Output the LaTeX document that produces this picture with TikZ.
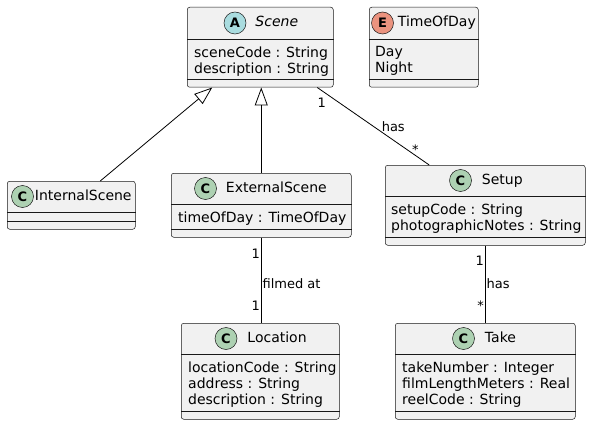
\documentclass[tikz,border=0pt]{standalone}
\usepackage{fontspec}
\setmainfont{DejaVu Sans}
\usetikzlibrary{positioning, arrows.meta}
\definecolor{classbg}{HTML}{F1F1F1}
\definecolor{classline}{HTML}{181818}
\definecolor{abstracticon}{HTML}{A9DCDF}
\definecolor{classicon}{HTML}{ADD1B2}
\definecolor{enumicon}{HTML}{EB937F}
\tikzset{
    classbox/.style={
        draw=classline, fill=classbg,
        line width=0.5pt, rounded corners=2.5pt,
        anchor=north west, inner sep=0pt,
    },
    sepline/.style={
        draw=classline, line width=0.5pt,
    },
    icon/.style={
        circle, draw=classline, fill=#1,
        line width=0.5pt, minimum size=22pt, inner sep=0pt,
        font=\fontsize{13}{13}\selectfont\bfseries,
    },
    classname/.style={
        inner sep=0pt, text height=10.5pt, text depth=2.5pt,
        font=\fontsize{14}{16}\selectfont,
    },
    members/.style={
        anchor=north west, inner sep=0pt, align=left,
        font=\fontsize{14}{16}\selectfont,
    },
    inherit/.style={
        -{Triangle[open, length=18pt, width=13pt]},
        line width=0.8pt,
    },
    assoc/.style={
        line width=0.8pt,
    },
    mult/.style={
        inner sep=0pt, font=\fontsize{13}{15}\selectfont,
    },
}

\begin{document}
\begin{tikzpicture}[x=1pt, y=-1pt]
\useasboundingbox (0,0) rectangle (591,425);

% =============================================
% Top row: Scene (abstract) and TimeOfDay (enum)
% =============================================
\node[classbox, minimum width=146pt, minimum height=80pt] (scene) at (187,7) {};
\draw[sepline] ([yshift=-32pt]scene.north west) -- ([yshift=-32pt]scene.north east);
\draw[sepline] ([yshift=-72pt]scene.north west) -- ([yshift=-72pt]scene.north east);
\node[icon=abstracticon] (sceneicon) at (235,23) {A};
\node[classname, right=9pt of sceneicon, font=\fontsize{14}{16}\selectfont\itshape] (scenename) {Scene};
\node[members] (scenemembers) at ([xshift=7pt, yshift=-39.5pt]scene.north west)
    {sceneCode : String\\description : String};

\node[classbox, minimum width=109pt, minimum height=80pt] (timeofday) at (369,7) {};
\draw[sepline] ([yshift=-32pt]timeofday.north west) -- ([yshift=-32pt]timeofday.north east);
\draw[sepline] ([yshift=-72pt]timeofday.north west) -- ([yshift=-72pt]timeofday.north east);
\node[icon=enumicon] (timeofdayicon) at (382.5,23) {E};
\node[classname, right=4pt of timeofdayicon] (timeofdayname) {TimeOfDay};
\node[members] (timeofdaymembers) at ([xshift=6pt, yshift=-39.5pt]timeofday.north west)
    {Day\\Night};

% =============================================
% Middle row: InternalScene, ExternalScene, Setup
% =============================================
\node[classbox, minimum width=128pt, minimum height=48pt] (internal) at (7,181) {};
\draw[sepline] ([yshift=-31pt]internal.north west) -- ([yshift=-31pt]internal.north east);
\draw[sepline] ([yshift=-40pt]internal.north west) -- ([yshift=-40pt]internal.north east);
\node[icon=classicon] (internalicon) at (22.5,196.5) {C};
\node[classname, right=1pt of internalicon] (internalname) {InternalScene};

\node[classbox, minimum width=180pt, minimum height=64pt] (external) at (171,173) {};
\draw[sepline] ([yshift=-31pt]external.north west) -- ([yshift=-31pt]external.north east);
\draw[sepline] ([yshift=-56pt]external.north west) -- ([yshift=-56pt]external.north east);
\node[icon=classicon] (externalicon) at (205.5,188.5) {C};
\node[classname, right=9pt of externalicon] (externalname) {ExternalScene};
\node[members] (externalmembers) at ([xshift=7pt, yshift=-38.5pt]external.north west)
    {timeOfDay : TimeOfDay};

\node[classbox, minimum width=200pt, minimum height=80pt] (setup) at (385,165) {};
\draw[sepline] ([yshift=-31pt]setup.north west) -- ([yshift=-31pt]setup.north east);
\draw[sepline] ([yshift=-72pt]setup.north west) -- ([yshift=-72pt]setup.north east);
\node[icon=classicon] (setupicon) at (460.5,180.5) {C};
\node[classname, right=10pt of setupicon] (setupname) {Setup};
\node[members] (setupmembers) at ([xshift=6pt, yshift=-38.5pt]setup.north west)
    {setupCode : String\\photographicNotes : String};

% =============================================
% Bottom row: Location, Take
% =============================================
\node[classbox, minimum width=158pt, minimum height=96pt] (location) at (181,323) {};
\draw[sepline] ([yshift=-31pt]location.north west) -- ([yshift=-31pt]location.north east);
\draw[sepline] ([yshift=-88pt]location.north west) -- ([yshift=-88pt]location.north east);
\node[icon=classicon] (locationicon) at (226,338.5) {C};
\node[classname, right=10pt of locationicon] (locationname) {Location};
\node[members] (locationmembers) at ([xshift=7pt, yshift=-38.5pt]location.north west)
    {locationCode : String\\address : String\\description : String};

\node[classbox, minimum width=180pt, minimum height=96pt] (take) at (395,323) {};
\draw[sepline] ([yshift=-31pt]take.north west) -- ([yshift=-31pt]take.north east);
\draw[sepline] ([yshift=-88pt]take.north west) -- ([yshift=-88pt]take.north east);
\node[icon=classicon] (takeicon) at (463.5,338.5) {C};
\node[classname, right=10pt of takeicon] (takename) {Take};
\node[members] (takemembers) at ([xshift=7pt, yshift=-38.5pt]take.north west)
    {takeNumber : Integer\\filmLengthMeters : Real\\reelCode : String};

% =============================================
% Generalisation arrows
% =============================================
\draw[inherit] ([xshift=29pt]internal.north) -- ([xshift=-48pt]scene.south);
\draw[inherit] (external.north) -- (external.north |- scene.south);

% =============================================
% Associations
% =============================================
\draw[assoc] ([xshift=57pt]scene.south)
    -- node[mult, pos=0.2, xshift=-18pt] {1}
       node[mult, pos=0.51, anchor=west, xshift=7pt] {has}
       node[mult, pos=0.77, xshift=12pt, yshift=-3pt] {*}
    ([xshift=-56pt]setup.north);

\draw[assoc] (external.south)
    -- node[mult, pos=0.19, anchor=east, xshift=-1pt] {1}
       node[mult, pos=0.535, anchor=west, xshift=1pt] {filmed at}
       node[mult, pos=0.8, anchor=east, xshift=-1pt] {1}
    (external.south |- location.north);

\draw[assoc] (setup.south)
    -- node[mult, pos=0.2, anchor=east, xshift=-1pt] {1}
       node[mult, pos=0.49, anchor=west, xshift=1pt] {has}
       node[mult, pos=0.78, anchor=east, xshift=-1pt] {*}
    (take.north);

\end{tikzpicture}
\end{document}
